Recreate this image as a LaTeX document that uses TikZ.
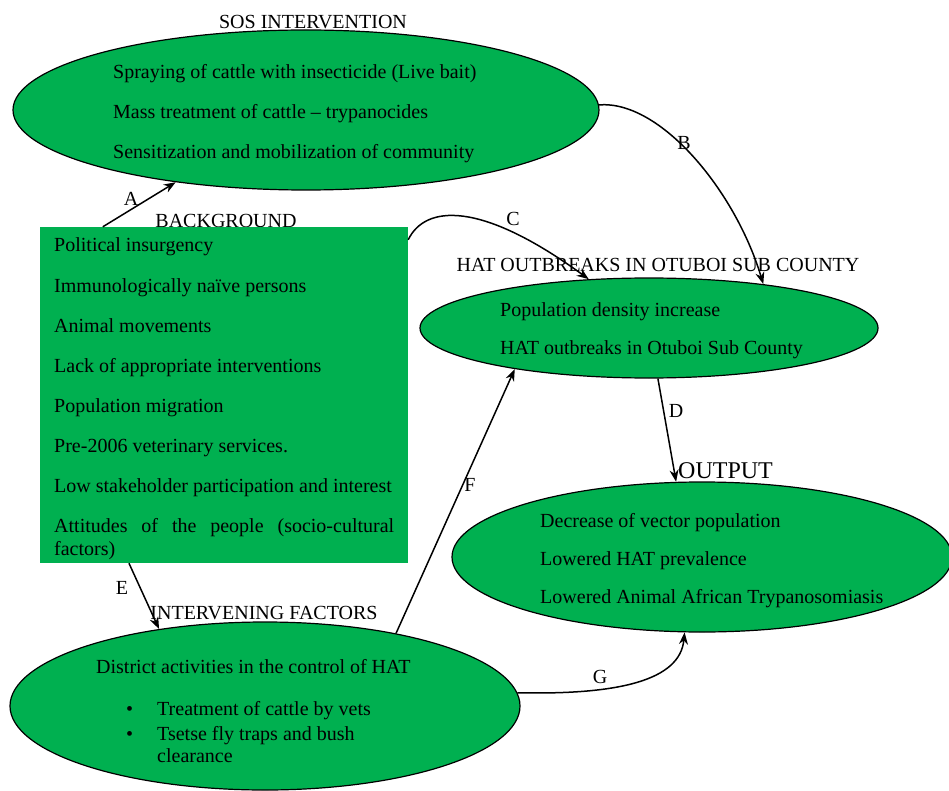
\documentclass[tikz,border=0pt]{standalone}
\usepackage{fontspec}
\setmainfont{Liberation Serif}
\usetikzlibrary{shapes.geometric,arrows.meta,calc}
\definecolor{boxgreen}{HTML}{00B050}
\begin{document}
\begin{tikzpicture}[x=1pt,y=-1pt,
  every node/.style={font=\fontsize{20}{23}\selectfont},
  oval/.style={ellipse, draw=black, line width=1.2pt, fill=boxgreen, inner sep=0pt},
  txt/.style={anchor=base west, inner sep=0pt},
  ttl/.style={anchor=base, inner sep=0pt},
  lbl/.style={inner sep=0pt},
  conn/.style={line width=1.5pt, -{Stealth[length=12pt,width=9pt]}}]
\useasboundingbox (0,0) rectangle (949,791);
\clip (0,0) rectangle (949,791);
% shapes
\node[oval, minimum width=586pt, minimum height=160pt] (sos) at (306,110) {};
\node[ttl] (t2) at (226,228) {BACKGROUND};
\node[fill=boxgreen, minimum width=368pt, minimum height=336pt, inner sep=0pt] (bg) at (224,395) {};
\node[oval, minimum width=458pt, minimum height=100pt] (hat) at (649,328) {};
\node[oval, minimum width=500pt, minimum height=150pt] (out) at (702,557) {};
\node[oval, minimum width=510pt, minimum height=168pt] (int) at (265,706) {};
% texts in SOS
\node[txt] (s1) at (113,79) {Spraying of cattle with insecticide (Live bait)};
\node[txt] (s2) at (113,119) {Mass treatment of cattle -- trypanocides};
\node[txt] (s3) at (113,159) {Sensitization and mobilization of community};
% texts in background
\node[txt] (b1) at (54,252) {Political insurgency};
\node[txt] (b2) at (54,292) {Immunologically naïve persons};
\node[txt] (b3) at (54,332) {Animal movements};
\node[txt] (b4) at (54,372) {Lack of appropriate interventions};
\node[txt] (b5) at (54,412) {Population migration};
\node[txt] (b6) at (54,452) {Pre-2006 veterinary services.};
\node[txt] (b7) at (54,492) {Low stakeholder participation and interest};
\node[txt] (b8) at (54,532) {\makebox[340pt][s]{Attitudes of the people (socio-cultural}};
\node[txt] (b9) at (54,555) {factors)};
% texts in HAT
\node[txt] (h1) at (500,316) {Population density increase};
\node[txt] (h2) at (500,354) {HAT outbreaks in Otuboi Sub County};
% texts in OUTPUT
\node[txt] (o1) at (540,527) {Decrease of vector population};
\node[txt] (o2) at (540,565) {Lowered HAT prevalence};
\node[txt] (o3) at (540,603) {Lowered Animal African Trypanosomiasis};
% texts in INTERVENING
\node[txt] (i1) at (96,673) {District activities in the control of HAT};
\node[txt] (ib1) at (126,715) {\textbullet};
\node[txt] (i2) at (157,715) {Treatment of cattle by vets};
\node[txt] (ib2) at (126,740) {\textbullet};
\node[txt] (i3) at (157,740) {Tsetse fly traps and bush};
\node[txt] (i4) at (157,762) {clearance};
% titles
\node[ttl] (t1) at (313,29) {SOS INTERVENTION};
\node[ttl] (t3) at (658,272) {HAT OUTBREAKS IN OTUBOI SUB COUNTY};
\node[txt, font=\fontsize{24}{28}\selectfont] (t4) at (678,478) {OUTPUT};
\node[ttl] (t5) at (264,619) {INTERVENING FACTORS};
% connectors
\draw[conn] ($(bg.north west)!0.171!(bg.north east)$) -- (sos.-151);
\draw[conn] (sos.1) .. controls (660,100) and (735,190) .. (hat.21.7);
\draw[conn] ($(bg.north east)+(0,13)$) .. controls (425,205) and (480,200) .. (hat.141.8);
\draw[conn] (hat.-80) -- (out.109);
\draw[conn] ($(bg.south west)!0.242!(bg.south east)$) -- (int.144.7);
\draw[conn] (int.29.4) -- (hat.-163);
\draw[conn] (int.3.3) .. controls (620,695) and (680,680) .. (out.-103);
% connector labels
\node[lbl] (la) at (131,199) {A};
\node[lbl] (lb) at (684,143) {B};
\node[lbl] (lc) at (513,219) {C};
\node[lbl] (ld) at (676,411) {D};
\node[lbl] (le) at (122,588) {E};
\node[lbl] (lf) at (470,485) {F};
\node[lbl] (lg) at (600,677) {G};
\end{tikzpicture}
\end{document}
